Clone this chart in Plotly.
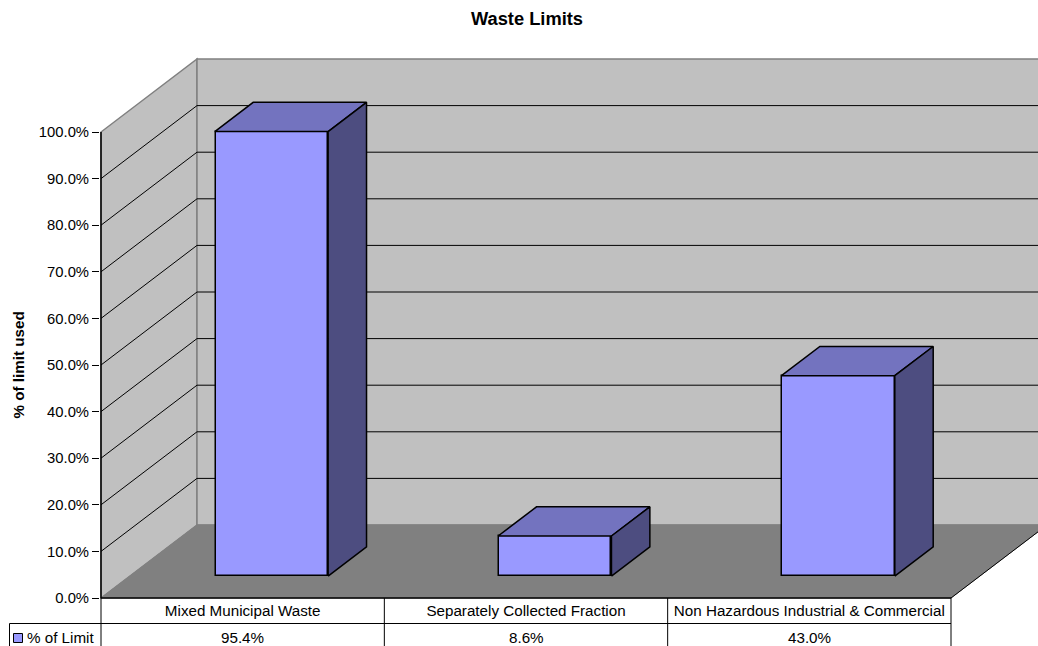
import plotly.graph_objects as go

categories = ["Mixed Municipal Waste", "Separately Collected Fraction", "Non Hazardous Industrial & Commercial"]
series_name = "% of Limit"
values = [95.4, 8.6, 43.0]
value_labels = ["95.4%", "8.6%", "43.0%"]
y_ticks = [0, 10, 20, 30, 40, 50, 60, 70, 80, 90, 100]

W, H = 1038, 646
L, R, T, B = 100, 0, 50, 47
CAT_PX = 850 / 3
VAL_PX = 4.66
DEPTH_X = 96 / CAT_PX      # one full depth of the box, in x units
DEPTH_Y = 73 / VAL_PX      # one full depth of the box, in y units
BAR_W = 0.4
D_FRONT, D_BACK = 0.3, 0.7
FONT = "Liberation Sans, Arial, sans-serif"
FS = 14.8
FS_TABLE = 15.2

WALL, FLOOR, EDGE = "#C0C0C0", "#808080", "#808080"
FACE, TOP, SIDE = "#9999FF", "#7373BF", "#4D4D80"


def proj(x, y, d):
    return x + d * DEPTH_X, y + d * DEPTH_Y


def path(pts):
    return "M " + " L ".join(f"{x:.5f},{y:.5f}" for x, y in pts) + " Z"


def px_x(p):
    return (p - L) / (W - L - R)


def px_y(p):
    return (H - B - p) / (H - T - B)


shapes = []
# walls and floor
shapes.append(dict(type="path", xref="x", yref="y", layer="below", fillcolor=WALL,
                   line=dict(color=EDGE, width=1.5),
                   path=path([(0, 0), proj(0, 0, 1), proj(0, 100, 1), (0, 100)])))
shapes.append(dict(type="path", xref="x", yref="y", layer="below", fillcolor=WALL,
                   line=dict(color=EDGE, width=1.5),
                   path=path([proj(0, 0, 1), proj(3, 0, 1), proj(3, 100, 1), proj(0, 100, 1)])))
shapes.append(dict(type="path", xref="x", yref="y", layer="below", fillcolor=FLOOR,
                   line=dict(color=EDGE, width=1),
                   path=path([(0, 0), (3, 0), proj(3, 0, 1), proj(0, 0, 1)])))
# gridlines on both walls
for t in y_ticks[1:-1]:
    a, b, c = (0, t), proj(0, t, 1), proj(3, t, 1)
    shapes.append(dict(type="path", xref="x", yref="y", layer="below",
                       line=dict(color="#000000", width=1),
                       path=f"M {a[0]},{a[1]} L {b[0]:.5f},{b[1]:.5f} L {c[0]:.5f},{c[1]:.5f}"))
# front right floor edge and value axis line
a, b = (3, 0), proj(3, 0, 1)
shapes.append(dict(type="line", xref="x", yref="y", x0=a[0], y0=a[1], x1=b[0], y1=b[1],
                   line=dict(color="#000000", width=1)))
shapes.append(dict(type="line", xref="x", yref="y", x0=0, y0=0, x1=0, y1=100,
                   line=dict(color="#000000", width=1.5)))
shapes.append(dict(type="line", xref="x", yref="y", x0=0, y0=0, x1=3, y1=0,
                   line=dict(color="#000000", width=1.5)))

# data table rules
ROW = 623.5
for i in range(len(categories) + 1):
    shapes.append(dict(type="line", xref="x", yref="paper", x0=i, x1=i,
                       y0=px_y(H), y1=px_y(598), line=dict(color="#000000", width=1)))
shapes.append(dict(type="line", xref="paper", yref="paper", x0=px_x(9.5), x1=px_x(101),
                   y0=px_y(ROW), y1=px_y(ROW), line=dict(color="#000000", width=1)))
shapes.append(dict(type="line", xref="x", yref="paper", x0=0, x1=3,
                   y0=px_y(ROW), y1=px_y(ROW), line=dict(color="#000000", width=1)))
shapes.append(dict(type="line", xref="paper", yref="paper", x0=px_x(9.5), x1=px_x(9.5),
                   y0=px_y(H), y1=px_y(ROW), line=dict(color="#000000", width=1)))
# legend key
shapes.append(dict(type="rect", xref="paper", yref="paper", x0=px_x(13.5), x1=px_x(22.5),
                   y0=px_y(642.5), y1=px_y(633.5), fillcolor=FACE,
                   line=dict(color="#000000", width=1)))

fig = go.Figure()
centers = [i + 0.5 for i in range(len(categories))]

# front faces: real bars, shifted by the depth of the box
fig.add_trace(go.Bar(
    x=[proj(c, 0, D_FRONT)[0] + 0.0015 for c in centers],
    y=values,
    base=[proj(0, 0, D_FRONT)[1]] * len(values),
    width=BAR_W - 0.003,
    name=series_name,
    marker=dict(color=FACE, line=dict(color="#000000", width=1.5)),
    showlegend=False,
))
# top and side faces
for c, v in zip(centers, values):
    x0, x1 = c - BAR_W / 2, c + BAR_W / 2
    top = [proj(x0, v, D_FRONT), proj(x1, v, D_FRONT), proj(x1, v, D_BACK), proj(x0, v, D_BACK)]
    side = [proj(x1, 0, D_FRONT), proj(x1, 0, D_BACK), proj(x1, v, D_BACK), proj(x1, v, D_FRONT)]
    for poly, col in ((top, TOP), (side, SIDE)):
        pts = poly + poly[:1]
        fig.add_trace(go.Scatter(
            x=[p[0] for p in pts], y=[p[1] for p in pts], mode="lines", fill="toself",
            fillcolor=col, line=dict(color="#000000", width=1.5), hoverinfo="skip",
            showlegend=False,
        ))

annotations = [dict(x=c, y=px_y(637.5), xref="x", yref="paper", text=t, showarrow=False,
                    font=dict(family=FONT, size=FS_TABLE, color="#000000"), yanchor="middle", xanchor="center")
               for c, t in zip(centers, value_labels)]
annotations.append(dict(x=px_x(24.5), y=px_y(637.5), xref="paper", yref="paper", text=series_name,
                        showarrow=False, xanchor="left", yanchor="middle",
                        font=dict(family=FONT, size=FS_TABLE, color="#000000")))
annotations.append(dict(x=px_x(18), y=px_y(365.5), xref="paper", yref="paper", text="% of limit used",
                        textangle=-90, showarrow=False, xanchor="center", yanchor="middle",
                        font=dict(family=FONT, size=15.2, color="#000000", weight="bold")))

fig.update_layout(
    width=W, height=H, autosize=False,
    margin=dict(l=L, r=R, t=T, b=B),
    paper_bgcolor="#FFFFFF", plot_bgcolor="#FFFFFF",
    font=dict(family=FONT, size=FS, color="#000000"),
    title=dict(text="<b>Waste Limits</b>", x=527 / W, xanchor="center", y=1 - 19 / H, yanchor="middle",
               font=dict(family=FONT, size=18.3, color="#000000")),
    xaxis=dict(range=[-1 / CAT_PX, (W - 101) / CAT_PX], tickvals=centers, ticktext=categories,
               showgrid=False, zeroline=False, showline=False, ticks="", tickangle=0,
               ticklabelstandoff=1, tickfont=dict(family=FONT, size=FS_TABLE)),
    yaxis=dict(range=[-1 / VAL_PX, 548 / VAL_PX], tickvals=y_ticks, ticktext=[f"{t:.1f}%" for t in y_ticks],
               showgrid=False, zeroline=False, showline=False, ticks="outside", ticklen=7, tickcolor="#000000",
               tickwidth=1, tickfont=dict(family=FONT, size=FS)),
    shapes=shapes, annotations=annotations, showlegend=False, bargap=0,
)
fig.write_html("out.html", config={"displayModeBar": False},
               post_script="document.body.style.margin='0';document.documentElement.style.overflow='hidden';")
